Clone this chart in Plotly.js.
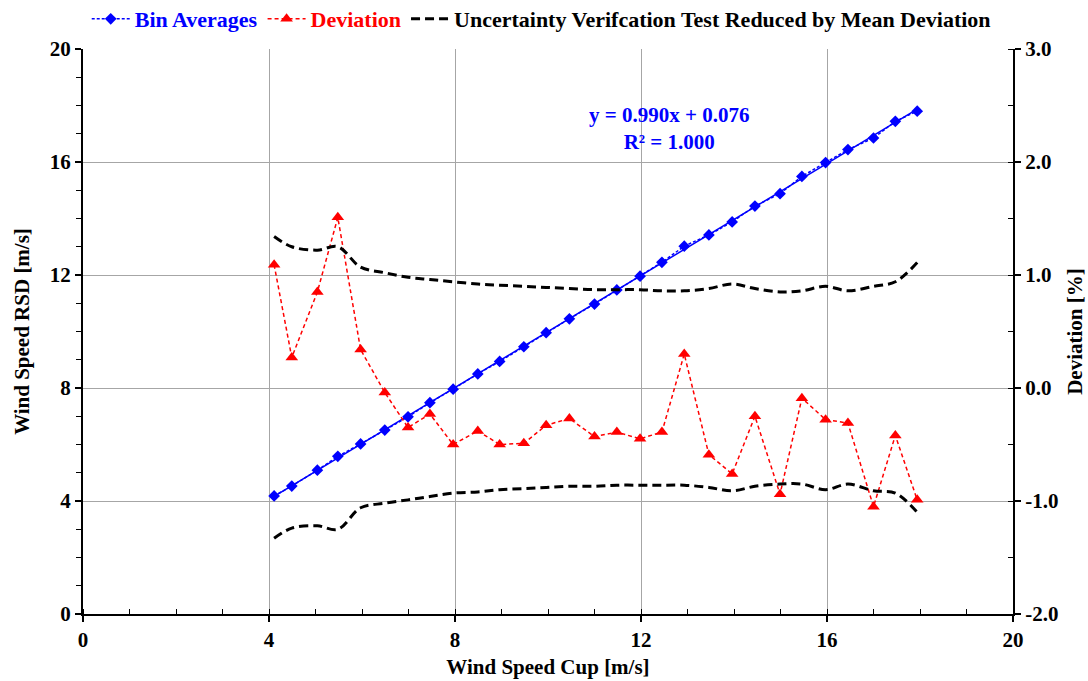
<!DOCTYPE html>
<html>
<head>
<meta charset="utf-8">
<script src="https://cdn.plot.ly/plotly-3.0.1.min.js"></script>
<style>html,body{margin:0;padding:0;background:#fff;}#chart{width:1088px;height:681px;}</style>
</head>
<body>
<div id="chart"></div>
<script>
// Wind speed cup bin centres [m/s]
const binX = [4.11, 4.49, 5.04, 5.48, 5.97, 6.49, 6.99, 7.46, 7.96, 8.49, 8.96, 9.48, 9.96, 10.46, 11.00,
              11.48, 11.98, 12.45, 12.93, 13.46, 13.96, 14.45, 14.99, 15.46, 15.97, 16.45, 17.00, 17.47, 17.94];
// Bin averages of RSD wind speed [m/s]
const binY = [4.18, 4.53, 5.09, 5.58, 6.02, 6.51, 6.98, 7.48, 7.96, 8.50, 8.94, 9.46, 9.96, 10.45, 10.97,
              11.47, 11.96, 12.45, 13.02, 13.42, 13.88, 14.44, 14.88, 15.49, 15.98, 16.44, 16.85, 17.44, 17.80];
// Deviation [%]
const deviation = [1.09, 0.27, 0.85, 1.51, 0.34, -0.04, -0.35, -0.23, -0.50, -0.38, -0.50, -0.49, -0.33, -0.27, -0.43,
                   -0.39, -0.45, -0.39, 0.30, -0.59, -0.76, -0.25, -0.94, -0.09, -0.28, -0.31, -1.05, -0.42, -0.99];
// Uncertainty verification test, reduced by mean deviation [%]
const uncUpper = [1.34, 1.25, 1.22, 1.25, 1.07, 1.02, 0.98, 0.96, 0.94, 0.92, 0.91, 0.90, 0.89, 0.88, 0.87,
                  0.87, 0.87, 0.86, 0.86, 0.88, 0.92, 0.88, 0.85, 0.86, 0.90, 0.86, 0.90, 0.94, 1.11];
const uncLower = [-1.33, -1.24, -1.22, -1.25, -1.06, -1.02, -0.99, -0.96, -0.93, -0.92, -0.90, -0.89, -0.88, -0.87, -0.87,
                  -0.86, -0.86, -0.86, -0.86, -0.88, -0.91, -0.87, -0.85, -0.85, -0.90, -0.85, -0.91, -0.93, -1.10];
const xTicks = [0, 4, 8, 12, 16, 20];
const yTicks = [0, 4, 8, 12, 16, 20];
const y2Ticks = [-2, -1, 0, 1, 2, 3];
const equationText = 'y = 0.990x + 0.076<br>R² = 1.000';

// least squares trendline through the bin averages
const n = binX.length;
const mx = binX.reduce((a, b) => a + b, 0) / n;
const my = binY.reduce((a, b) => a + b, 0) / n;
let sxy = 0, sxx = 0;
for (let i = 0; i < n; i++) { sxy += (binX[i] - mx) * (binY[i] - my); sxx += (binX[i] - mx) ** 2; }
const slope = sxy / sxx, icpt = my - slope * mx;
const trendX = [binX[0], binX[n - 1]];
const trendY = trendX.map(v => slope * v + icpt);

const FONT = 'Liberation Serif, Times New Roman, serif';

const traces = [
  { x: binX, y: binY, type: 'scatter', mode: 'lines+markers',
    name: '<span style="color:#0000ff">Bin Averages</span>',
    line: { color: '#0000ff', width: 1.5, dash: '3px,2px' },
    marker: { symbol: 'diamond', size: 9, color: '#0000ff' } },
  { x: deviation.map((d, i) => binX[i]), y: deviation, type: 'scatter', mode: 'lines+markers', yaxis: 'y2',
    name: '<span style="color:#ff0000">Deviation</span>',
    line: { color: '#ff0000', width: 1.5, dash: '4px,3px' },
    marker: { symbol: 'triangle-up', size: 11, color: '#ff0000' } },
  { x: binX, y: uncUpper, type: 'scatter', mode: 'lines', yaxis: 'y2', legendgroup: 'unc',
    name: 'Uncertainty Verifcation Test Reduced by Mean Deviation',
    line: { color: '#000000', width: 3, dash: '9px,5px', shape: 'spline' } },
  { x: binX, y: uncLower, type: 'scatter', mode: 'lines', yaxis: 'y2', legendgroup: 'unc', showlegend: false,
    line: { color: '#000000', width: 3, dash: '9px,5px', shape: 'spline' } },
  { x: trendX, y: trendY, type: 'scatter', mode: 'lines', showlegend: false,
    line: { color: '#0000ff', width: 1.5 } }
];

const layout = {
  width: 1088, height: 681,
  margin: { l: 83, r: 75, t: 49, b: 67, autoexpand: false },
  paper_bgcolor: '#ffffff', plot_bgcolor: '#ffffff',
  font: { family: FONT, size: 21, color: '#000000', weight: 'bold' },
  showlegend: true,
  legend: { orientation: 'h', x: 0.004, xanchor: 'left', yref: 'container', y: 1 - 19 / 681, yanchor: 'middle',
            font: { family: FONT, size: 22, color: '#000000', weight: 'bold' },
            bgcolor: 'rgba(0,0,0,0)', tracegroupgap: 0, itemwidth: 38 },
  xaxis: {
    range: [0, 20], tickvals: xTicks, ticktext: xTicks.map(String),
    showline: true, linecolor: '#000000', linewidth: 2,
    ticks: 'outside', ticklen: 6, tickwidth: 2, tickcolor: '#000000',
    showgrid: true, gridcolor: '#a6a6a6', gridwidth: 1, zeroline: false,
    minor: { dtick: 1, ticks: 'inside', ticklen: 5, tickwidth: 1, tickcolor: '#000000', showgrid: false },
    tickfont: { family: FONT, size: 21, weight: 'bold' },
    title: { text: 'Wind Speed Cup [m/s]', font: { family: FONT, size: 21, weight: 'bold' }, standoff: 8 }
  },
  yaxis: {
    range: [0, 20], tickvals: yTicks, ticktext: yTicks.map(String),
    showline: true, linecolor: '#000000', linewidth: 2,
    ticks: 'outside', ticklen: 6, tickwidth: 2, tickcolor: '#000000',
    showgrid: true, gridcolor: '#a6a6a6', gridwidth: 1, zeroline: false,
    minor: { dtick: 1, ticks: 'outside', ticklen: 5, tickwidth: 1, tickcolor: '#000000', showgrid: false },
    tickfont: { family: FONT, size: 21, weight: 'bold' },
    title: { text: 'Wind Speed RSD [m/s]', font: { family: FONT, size: 21, weight: 'bold' }, standoff: 14 }
  },
  yaxis2: {
    range: [-2, 3], tickvals: y2Ticks, ticktext: y2Ticks.map(v => v.toFixed(1)),
    overlaying: 'y', side: 'right', anchor: 'x',
    showline: true, linecolor: '#000000', linewidth: 2,
    ticks: 'outside', ticklen: 6, tickwidth: 2, tickcolor: '#000000',
    showgrid: false, zeroline: false,
    minor: { dtick: 0.5, ticks: 'inside', ticklen: 5, tickwidth: 1, tickcolor: '#000000', showgrid: false },
    tickfont: { family: FONT, size: 21, weight: 'bold' },
    title: { text: 'Deviation [%]', font: { family: FONT, size: 21, weight: 'bold' }, standoff: 10 }
  },
  annotations: [
    { text: equationText, xref: 'x', yref: 'y', x: 12.6, y: 17.2, xanchor: 'center', yanchor: 'middle',
      showarrow: false, align: 'center',
      font: { family: FONT, size: 21, color: '#0000ff', weight: 'bold' } }
  ]
};

Plotly.newPlot('chart', traces, layout, { displayModeBar: false, staticPlot: true });
</script>
</body>
</html>
